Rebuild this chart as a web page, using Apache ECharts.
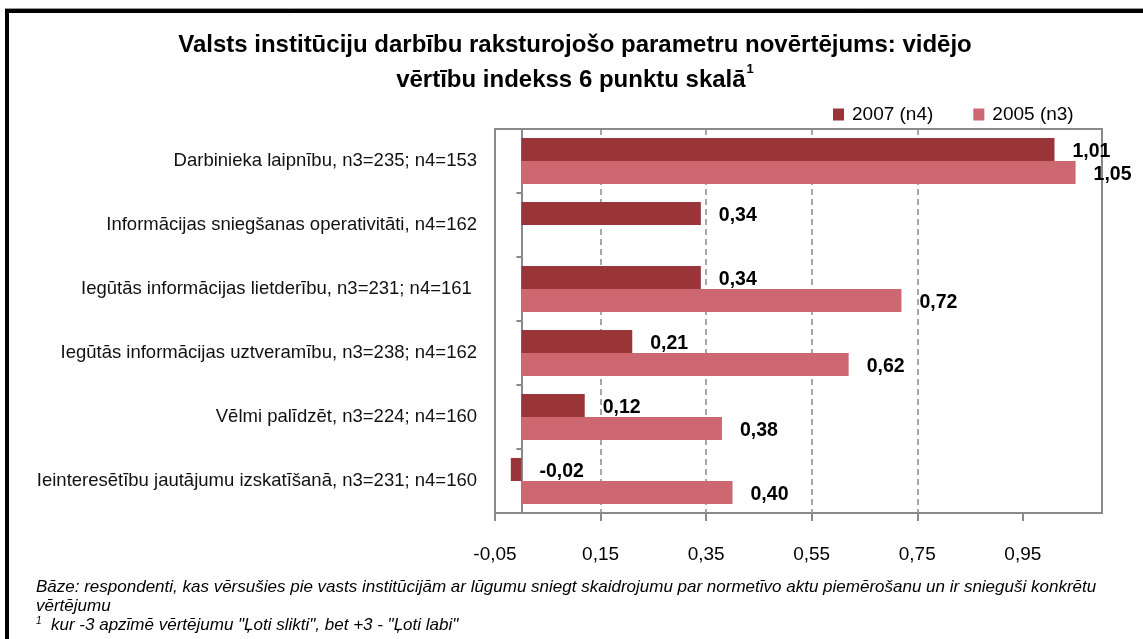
<!DOCTYPE html>
<html>
<head>
<meta charset="utf-8">
<script src="https://cdn.jsdelivr.net/npm/echarts@6/dist/echarts.min.js"></script>
<style>
  html, body { margin: 0; padding: 0; background: #fff; }
  #chart { width: 1143px; height: 639px; }
</style>
</head>
<body>
<div id="chart"></div>
<script>
// dati no attēla
var categories = [
  'Darbinieka laipnību, n3=235; n4=153',
  'Informācijas sniegšanas operativitāti, n4=162',
  'Iegūtās informācijas lietderību, n3=231; n4=161 ',
  'Iegūtās informācijas uztveramību, n3=238; n4=162',
  'Vēlmi palīdzēt, n3=224; n4=160',
  'Ieinteresētību jautājumu izskatīšanā, n3=231; n4=160'
]
var seriesNames = ['2007 (n4)', '2005 (n3)']
var values2007 = [1.01, 0.34, 0.34, 0.21, 0.12, -0.02]
var values2005 = [1.05, null, 0.72, 0.62, 0.38, 0.40]
var xTicks = [-0.05, 0.15, 0.35, 0.55, 0.75, 0.95]

var FONT = '"Liberation Sans", Arial, sans-serif'
var GRAY = '#8a8a8a'

function fmt(v) {
  return Number(v).toFixed(2).replace('.', ',')
}

var chart = echarts.init(document.getElementById('chart'))

var barLabel = {
  show: true,
  position: 'right',
  distance: 18,
  offset: [0, 2],
  fontFamily: FONT,
  fontSize: 19.5,
  fontWeight: 'bold',
  color: '#000',
  formatter: function(p) {
    return fmt(p.value)
  }
}

var option = {
  backgroundColor: '#fff',
  animation: false,
  title: {
    text: 'Valsts institūciju darbību raksturojošo parametru novērtējums: vidējo\nvērtību indekss 6 punktu skalā{sup|1}',
    left: 570,
    top: 23,
    textAlign: 'center',
    textStyle: {
      fontFamily: FONT,
      fontSize: 24,
      fontWeight: 'bold',
      color: '#000',
      lineHeight: 35,
      rich: {
        sup: {
          fontFamily: FONT,
          fontSize: 13,
          fontWeight: 'bold',
          color: '#000',
          verticalAlign: 'top',
          lineHeight: 35,
          padding: [0, 0, 12, 1]
        }
      }
    }
  },
  legend: {
    left: 828,
    top: 100,
    itemWidth: 11,
    itemHeight: 12,
    itemGap: 40,
    icon: 'rect',
    data: seriesNames,
    textStyle: {
      fontFamily: FONT,
      fontSize: 19,
      color: '#000',
      padding: [0, 0, 0, 3]
    }
  },
  grid: {
    left: 495,
    right: 41,
    top: 129,
    bottom: 126,
    show: true,
    borderColor: GRAY,
    borderWidth: 2,
    containLabel: false,
    outerBoundsMode: 'none'
  },
  xAxis: {
    type: 'value',
    min: -0.05,
    max: 1.1,
    interval: 0.2,
    axisLine: { show: true, onZero: false, lineStyle: { color: GRAY, width: 2 } },
    axisTick: { show: true, length: 8, customValues: xTicks, lineStyle: { color: GRAY, width: 2 } },
    axisLabel: {
      customValues: xTicks,
      margin: 32,
      fontFamily: FONT,
      fontSize: 19,
      color: '#000',
      formatter: fmt
    },
    splitLine: {
      show: true,
      showMinLine: false,
      showMaxLine: false,
      lineStyle: { color: GRAY, width: 1.5, type: [6, 4] }
    }
  },
  yAxis: {
    type: 'category',
    inverse: true,
    data: categories,
    axisLine: { show: true, onZero: true, lineStyle: { color: GRAY, width: 2 } },
    axisTick: { show: true, length: 5, lineStyle: { color: GRAY, width: 2 } },
    axisLabel: {
      margin: 18,
      fontFamily: FONT,
      fontSize: 18.5,
      color: '#111'
    },
    splitLine: { show: false }
  },
  series: [
    {
      name: seriesNames[0],
      type: 'bar',
      data: values2007,
      barGap: '0%',
      barCategoryGap: '28%',
      itemStyle: { color: '#993538' },
      label: barLabel
    },
    {
      name: seriesNames[1],
      type: 'bar',
      data: values2005,
      barGap: '0%',
      barCategoryGap: '28%',
      itemStyle: { color: '#cd6770' },
      label: barLabel
    }
  ],
  graphic: [
    // rāmis ap attēlu
    { type: 'line', shape: { x1: 5, y1: 8.5, x2: 1143, y2: 8.5 }, style: { stroke: '#999', lineWidth: 1 } },
    { type: 'rect', shape: { x: 7, y: 11, width: 1200, height: 700 }, style: { fill: null, stroke: '#000', lineWidth: 4 } },
    {
      type: 'text',
      left: 36,
      top: 578,
      style: {
        text: 'Bāze: respondenti, kas vērsušies pie vasts institūcijām ar lūgumu sniegt skaidrojumu par normetīvo aktu piemērošanu un ir snieguši konkrētu\nvērtējumu\n{s|1}  kur -3 apzīmē vērtējumu "Ļoti slikti", bet +3 - "Ļoti labi"',
        fontFamily: FONT,
        fontSize: 17,
        fontStyle: 'italic',
        fill: '#000',
        lineHeight: 19,
        rich: {
          s: { fontFamily: FONT, fontSize: 10, fontStyle: 'italic', fill: '#000', verticalAlign: 'top', lineHeight: 19 }
        }
      }
    }
  ]
}

chart.setOption(option)
</script>
</body>
</html>
